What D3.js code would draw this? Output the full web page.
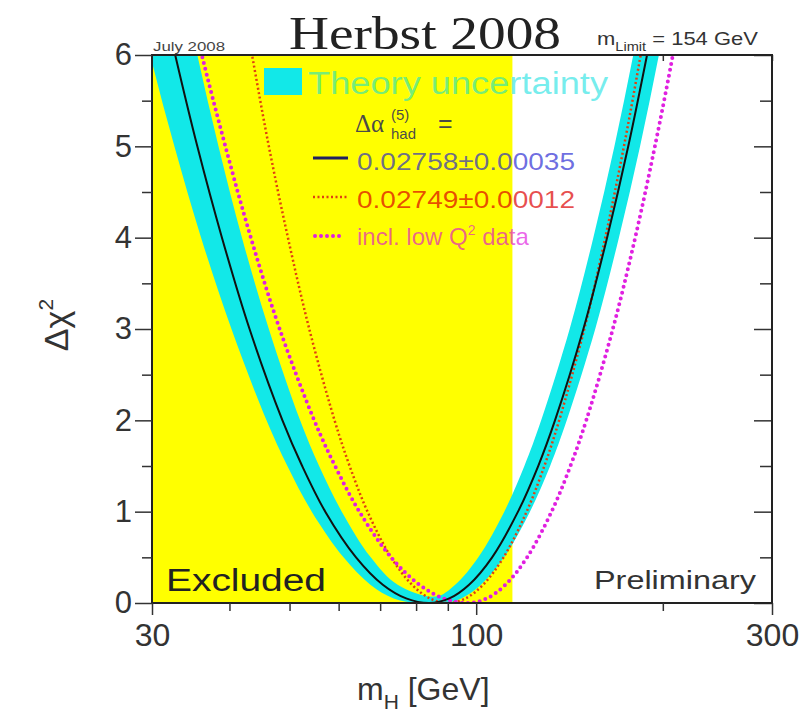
<!DOCTYPE html>
<html lang="en">
  <head>
    <meta charset="utf-8" />
    <script src="https://d3js.org/d3.v7.min.js"></script>
    <style>
      body { margin: 0; background: #fff; }
      svg { font-family: 'Liberation Sans', Arial, Helvetica, sans-serif; }
    </style>
  </head>
  <body>
    <svg id="chart" width="799" height="719"></svg>
    <script>
      // values: [mH in GeV, delta chi^2]
      const excludedLimit = 114.4;
      const centralCurve = [[30.3,7],[32.7,6],[35.5,5],[38.9,4],[43.1,3],[48.7,2],[52.4,1.5],[57.1,1],[64.0,0.5],[70.7,0.2],[77.1,0.05],[84,0],[90.5,0.05],[97.4,0.2],[106.1,0.5],[116.8,1],[125.9,1.5],[134.0,2],[148.9,3],[162.6,4],[175.9,5],[188.6,6],[201.3,7]];
      const bandOuter = [[27.5,7],[29.8,6],[32.6,5],[36.0,4],[40.3,3],[45.9,2],[49.6,1.5],[54.3,1],[61.1,0.5],[67.5,0.2],[73.6,0.05],[80.2,0],[89.0,0],[94.6,0.05],[101.8,0.2],[110.9,0.5],[122.1,1],[131.6,1.5],[140.0,2],[155.6,3],[169.9,4],[183.8,5],[197.1,6],[210.4,7]];
      const bandInner = [[33.0,7],[35.5,6],[38.4,5],[41.9,4],[46.3,3],[52.0,2],[55.8,1.5],[60.7,1],[67.6,0.5],[74.7,0.2],[86,0.07],[92.5,0.2],[100.8,0.5],[111.0,1],[119.6,1.5],[127.3,2],[141.5,3],[154.5,4],[167.1,5],[179.2,6],[191.2,7]];
      const redCurve = [[41.0,7],[43.5,6],[46.3,5],[49.7,4],[53.8,3],[59.1,2],[62.5,1.5],[66.8,1],[72.9,0.5],[78.8,0.2],[84.2,0.05],[90,0],[96.1,0.05],[102.6,0.2],[110.7,0.5],[120.6,1],[128.8,1.5],[136.1,2],[149.4,3],[161.5,4],[173.1,5],[184.2,6],[195.1,7]];
      const magentaCurve = [[33.4,7],[36.1,6],[39.4,5],[43.3,4],[48.2,3],[54.8,2],[59.2,1.5],[64.8,1],[72.9,0.5],[81.0,0.2],[88.6,0.05],[97,0],[104.0,0.05],[111.5,0.2],[120.8,0.5],[132.3,1],[141.9,1.5],[150.5,2],[166.1,3],[180.5,4],[194.2,5],[207.6,6],[220.6,7]];

      const xMajor = [30, 100, 300];
      const xMinor = [40, 50, 60, 70, 80, 90, 200];
      const yMajor = [0, 1, 2, 3, 4, 5, 6];
      const yMinor = [0.5, 1.5, 2.5, 3.5, 4.5, 5.5];

      const svg = d3.select('#chart');
      const pLeft = 152, pRight = 772, pTop = 55, pBottom = 603;

      const x = d3.scaleLog().domain([30, 300]).range([pLeft, pRight]);
      const y = d3.scaleLinear().domain([0, 6]).range([pBottom, pTop]);

      svg.append('clipPath').attr('id', 'plotclip')
        .append('rect')
        .attr('x', pLeft).attr('y', pTop)
        .attr('width', pRight - pLeft).attr('height', pBottom - pTop);

      // inner ticks on top and right (under the fills)
      svg.append('g')
        .attr('transform', `translate(0,${pTop})`)
        .call(d3.axisBottom(x).tickValues(xMajor.concat(xMinor)).tickSize(6).tickFormat(''))
        .call(g => g.select('.domain').remove());
      svg.append('g')
        .attr('transform', `translate(${pRight},0)`)
        .call(d3.axisLeft(y).tickValues(yMajor).tickSize(18).tickFormat(''))
        .call(g => g.select('.domain').remove());
      svg.append('g')
        .attr('transform', `translate(${pRight},0)`)
        .call(d3.axisLeft(y).tickValues(yMinor).tickSize(12).tickFormat(''))
        .call(g => g.select('.domain').remove());

      const plot = svg.append('g').attr('clip-path', 'url(#plotclip)');

      // excluded region
      plot.append('rect')
        .attr('x', x(30)).attr('y', y(6))
        .attr('width', x(excludedLimit) - x(30))
        .attr('height', y(0) - y(6))
        .attr('fill', '#ffff00');

      const line = d3.line()
        .x(d => x(d[0]))
        .y(d => y(d[1]))
        .curve(d3.curveCatmullRom.alpha(0.5));

      // theory uncertainty band
      const outerD = line(bandOuter);
      const innerD = line(bandInner.slice().reverse());
      plot.append('path')
        .attr('d', outerD + innerD.replace(/^M/, 'L') + 'Z')
        .attr('fill', '#12e8e8');

      plot.append('path')
        .attr('d', line(redCurve))
        .attr('fill', 'none')
        .attr('stroke', '#e04010')
        .attr('stroke-width', 2.5)
        .attr('stroke-dasharray', '2,2.5');

      plot.append('path')
        .attr('d', line(magentaCurve))
        .attr('fill', 'none')
        .attr('stroke', '#e020e0')
        .attr('stroke-width', 4)
        .attr('stroke-linecap', 'round')
        .attr('stroke-dasharray', '0,6');

      plot.append('path')
        .attr('d', line(centralCurve))
        .attr('fill', 'none')
        .attr('stroke', '#111')
        .attr('stroke-width', 2);

      // frame
      svg.append('rect')
        .attr('x', pLeft).attr('y', pTop)
        .attr('width', pRight - pLeft).attr('height', pBottom - pTop)
        .attr('fill', 'none')
        .attr('stroke', '#222')
        .attr('stroke-width', 2);

      // left axis
      const yAxis = svg.append('g')
        .attr('transform', `translate(${pLeft},0)`)
        .call(d3.axisLeft(y).tickValues(yMajor).tickSize(17).tickPadding(3).tickFormat(d3.format('d')));
      yAxis.select('.domain').remove();
      yAxis.attr('font-family', null);
      yAxis.selectAll('text').attr('font-size', 31).attr('fill', '#333');
      svg.append('g')
        .attr('transform', `translate(${pLeft},0)`)
        .call(d3.axisLeft(y).tickValues(yMinor).tickSize(10).tickFormat(''))
        .call(g => g.select('.domain').remove());

      // bottom axis
      const xAxis = svg.append('g')
        .attr('transform', `translate(0,${pBottom})`)
        .call(d3.axisBottom(x).tickValues(xMajor).tickSize(12).tickPadding(8).tickFormat(d3.format('d')));
      xAxis.select('.domain').remove();
      xAxis.attr('font-family', null);
      xAxis.selectAll('text').attr('font-size', 32).attr('fill', '#333');
      svg.append('g')
        .attr('transform', `translate(0,${pBottom})`)
        .call(d3.axisBottom(x).tickValues(xMinor).tickSize(8).tickFormat(''))
        .call(g => g.select('.domain').remove());
      svg.selectAll('.tick line').attr('stroke', '#333').attr('stroke-width', 1.5);

      // axis titles
      const xt = svg.append('text')
        .attr('x', 357).attr('y', 700)
        .attr('font-size', 32).attr('fill', '#333');
      xt.append('tspan').text('m');
      xt.append('tspan').attr('dy', 9).attr('font-size', 21).text('H');
      xt.append('tspan').attr('dy', -9).text(' [GeV]');

      const yt = svg.append('text')
        .attr('transform', 'translate(68,325) rotate(-90)')
        .attr('text-anchor', 'middle')
        .attr('font-size', 34).attr('fill', '#333');
      yt.append('tspan').text('Δχ');
      yt.append('tspan').attr('dy', -15).attr('font-size', 21).text('2');

      // title and header notes
      svg.append('text')
        .attr('x', 289).attr('y', 49)
        .attr('font-family', "'Liberation Serif', 'Times New Roman', serif")
        .attr('font-size', 46)
        .attr('textLength', 272).attr('lengthAdjust', 'spacingAndGlyphs')
        .attr('fill', '#222')
        .text('Herbst 2008');

      svg.append('text')
        .attr('x', 153).attr('y', 51)
        .attr('font-size', 12).attr('fill', '#444')
        .attr('textLength', 72).attr('lengthAdjust', 'spacingAndGlyphs')
        .text('July 2008');

      const ml = svg.append('text')
        .attr('transform', 'translate(597,45) scale(1.22,1)')
        .attr('font-size', 18).attr('fill', '#333');
      ml.append('tspan').text('m');
      ml.append('tspan').attr('dy', 6).attr('font-size', 12).text('Limit');
      ml.append('tspan').attr('dy', -6).text(' = 154 GeV');

      // in-plot labels
      svg.append('text')
        .attr('x', 166).attr('y', 591)
        .attr('font-size', 31).attr('fill', '#222')
        .attr('textLength', 160).attr('lengthAdjust', 'spacingAndGlyphs')
        .text('Excluded');
      svg.append('text')
        .attr('x', 594).attr('y', 589)
        .attr('font-size', 26).attr('fill', '#333')
        .attr('textLength', 162).attr('lengthAdjust', 'spacingAndGlyphs')
        .text('Preliminary');

      // legend
      const legend = svg.append('g');
      legend.append('rect')
        .attr('x', 264).attr('y', 68).attr('width', 38).attr('height', 27)
        .attr('fill', '#12e8e8');
      legend.append('text')
        .attr('x', 308).attr('y', 94)
        .attr('font-size', 31).attr('fill', '#00dede').attr('fill-opacity', 0.55)
        .attr('textLength', 300).attr('lengthAdjust', 'spacingAndGlyphs')
        .text('Theory uncertainty');

      const da = legend.append('text')
        .attr('x', 355).attr('y', 132)
        .attr('font-size', 25).attr('fill', '#2a2a55').attr('fill-opacity', 0.85);
      da.append('tspan').attr('font-family', "'Liberation Serif', serif").text('Δα');
      da.append('tspan').attr('x', 391).attr('dy', -12).attr('font-size', 15).text('(5)');
      da.append('tspan').attr('x', 391).attr('dy', 19).attr('font-size', 15).text('had');
      da.append('tspan').attr('x', 438).attr('dy', -7).text('=');

      legend.append('line')
        .attr('x1', 313).attr('x2', 348).attr('y1', 158).attr('y2', 158)
        .attr('stroke', '#202060').attr('stroke-width', 3);
      legend.append('text')
        .attr('x', 357).attr('y', 170)
        .attr('font-size', 24).attr('fill', '#1a1ad0').attr('fill-opacity', 0.65)
        .attr('textLength', 218).attr('lengthAdjust', 'spacingAndGlyphs')
        .text('0.02758±0.00035');

      legend.append('line')
        .attr('x1', 313).attr('x2', 348).attr('y1', 197).attr('y2', 197)
        .attr('stroke', '#e04010').attr('stroke-width', 2.5)
        .attr('stroke-dasharray', '2,2.5');
      legend.append('text')
        .attr('x', 357).attr('y', 208)
        .attr('font-size', 24).attr('fill', '#dd0000').attr('fill-opacity', 0.7)
        .attr('textLength', 218).attr('lengthAdjust', 'spacingAndGlyphs')
        .text('0.02749±0.00012');

      legend.append('line')
        .attr('x1', 315).attr('x2', 340).attr('y1', 236).attr('y2', 236)
        .attr('stroke', '#e020e0').attr('stroke-width', 4)
        .attr('stroke-linecap', 'round').attr('stroke-dasharray', '0,6');
      const lq = legend.append('text')
        .attr('x', 357).attr('y', 245)
        .attr('font-size', 24).attr('fill', '#dd00dd').attr('fill-opacity', 0.6);
      lq.append('tspan').text('incl. low Q');
      lq.append('tspan').attr('dy', -10).attr('font-size', 14).text('2');
      lq.append('tspan').attr('dy', 10).text(' data');
    </script>
  </body>
</html>
